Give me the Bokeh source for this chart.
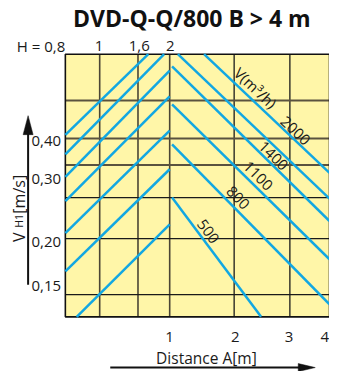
import math
from bokeh.plotting import figure
from bokeh.models import Range1d
from bokeh.core.properties import value
from bokeh.embed import file_html
from bokeh.resources import INLINE

# ---------------- data (chart units: the yellow field spans 0..100 on both axes) -------------
title_text = "DVD-Q-Q/800 B > 4 m"

# grid lines of the diagram
grid_x_dark = [13.0, 27.5, 39.5]
grid_x_black = [63.9, 85.0]
grid_y_dark = [82.4, 67.9, 57.8]
grid_y_black = [45.4, 29.8, 8.5]

# rising lines (left family)
rise_x0 = [0.0, 0.0, 0.0, 0.0, 0.0, 0.0, 4.3]
rise_y0 = [69.3, 61.9, 53.3, 44.1, 31.9, 17.3, 0.0]
rise_x1 = [31.4, 37.4, 39.5, 39.5, 39.5, 39.5, 39.5]
rise_y1 = [100.0, 100.0, 93.7, 83.9, 70.9, 56.2, 35.2]

# falling lines (air volume V family)
fall_x0 = [42.6, 52.5, 40.4, 40.4, 40.4, 40.4]
fall_y0 = [100.0, 100.0, 95.4, 80.9, 65.7, 45.4]
fall_x1 = [100.0, 100.0, 100.0, 100.0, 100.0, 74.1]
fall_y1 = [45.0, 54.8, 36.5, 21.9, 4.8, 0.0]

# labels of the falling lines: text, index of the line it follows, position
v_labels = ["V(m³/h)", "2000", "1400", "1100", "800", "500"]
v_label_line = [1, 1, 2, 3, 4, 5]
v_label_x = [72.0, 87.0, 78.7, 72.9, 65.3, 54.0]
v_label_y = [87.2, 70.8, 61.3, 53.6, 45.3, 32.5]

# top scale H
h_labels = ["H = 0,8", "1", "1,6", "2"]
h_label_x = [-9.2, 12.8, 28.0, 39.7]
h_label_y = 103.3

# left scale V_H1
v_tick_labels = ["0,40", "0,30", "0,20", "0,15"]
v_tick_y = [66.9, 52.3, 28.6, 11.8]
v_tick_x = -7.2

# bottom scale A
a_labels = ["1", "2", "3", "4"]
a_label_x = [39.4, 64.3, 84.7, 98.2]
a_label_y = -7.7

x_label = "Distance A[m]"

# ---------------- figure ----------------
X0, X1 = -24.55, 100.0
Y0, Y1 = -20.8, 120.44
W, H = 329, 371
sx = W / (X1 - X0)
sy = H / (Y1 - Y0)

p = figure(width=W, height=H, x_range=Range1d(X0, X1), y_range=Range1d(Y0, Y1),
           output_backend="svg", toolbar_location=None, min_border=0,
           x_axis_type=None, y_axis_type=None)
p.outline_line_color = None
p.xgrid.visible = False
p.ygrid.visible = False
p.background_fill_color = "white"
p.border_fill_color = "white"

FONT = value("Open Sans")
YELLOW = "#fff6a8"
BLUE = "#12a7e2"
INK = "#1a1a1a"

# yellow field
p.quad(left=[0], right=[100], bottom=[0], top=[100], fill_color=YELLOW, line_color=None)

# grid
p.segment(x0=grid_x_dark, y0=[0] * len(grid_x_dark), x1=grid_x_dark, y1=[100] * len(grid_x_dark),
          line_color="#4b4535", line_width=1.6)
p.segment(x0=grid_x_black, y0=[0] * len(grid_x_black), x1=grid_x_black, y1=[100] * len(grid_x_black),
          line_color=INK, line_width=1.3)
p.segment(x0=[0] * len(grid_y_dark), y0=grid_y_dark, x1=[100] * len(grid_y_dark), y1=grid_y_dark,
          line_color="#5a523f", line_width=2.0)
p.segment(x0=[0] * len(grid_y_black), y0=grid_y_black, x1=[100] * len(grid_y_black), y1=grid_y_black,
          line_color=INK, line_width=1.3)

# border
p.quad(left=[0], right=[100], bottom=[0], top=[100], fill_color=None, line_color="#111111", line_width=1.6)

# blue lines
p.segment(x0=rise_x0, y0=rise_y0, x1=rise_x1, y1=rise_y1, line_color=BLUE, line_width=2.5)
p.segment(x0=fall_x0, y0=fall_y0, x1=fall_x1, y1=fall_y1, line_color=BLUE, line_width=2.5)

# labels along falling lines (angle derived from the line they follow)
angles = []
for i in v_label_line:
    dx = (fall_x1[i] - fall_x0[i]) * sx
    dy = (fall_y1[i] - fall_y0[i]) * sy
    angles.append(math.atan2(dy, dx))
p.text(x=v_label_x, y=v_label_y, text=v_labels, angle=angles, text_font=FONT,
       text_font_size="15px", text_color=INK, text_align="center", text_baseline="middle")

# title
p.text(x=[47.9], y=[113.6], text=[title_text], text_font=FONT, text_font_style="bold",
       text_font_size="23px", text_color="#111111", text_align="center", text_baseline="middle")

# top H labels
p.text(x=h_label_x, y=[h_label_y] * len(h_labels), text=h_labels, text_font=FONT,
       text_font_size="15px", text_color=INK, text_align="center", text_baseline="middle")

# left tick labels
p.text(x=[v_tick_x] * len(v_tick_labels), y=v_tick_y, text=v_tick_labels, text_font=FONT,
       text_font_size="15px", text_color=INK, text_align="center", text_baseline="middle")

# bottom labels
p.text(x=a_label_x, y=[a_label_y] * len(a_labels), text=a_labels, text_font=FONT,
       text_font_size="15px", text_color=INK, text_align="center", text_baseline="middle")
p.text(x=[53.4], y=[-15.7], text=[x_label], text_font=FONT,
       text_font_size="15.5px", text_color=INK, text_align="center", text_baseline="middle")

# y axis title  V_H1 [m/s]  (rotated)
p.text(x=[-17.5], y=[28.5], text=["V"], angle=[math.pi / 2], text_font=FONT,
       text_font_size="16px", text_color=INK, text_align="left", text_baseline="alphabetic")
p.text(x=[-17.5], y=[33.9], text=["H1"], angle=[math.pi / 2], text_font=FONT,
       text_font_size="10.5px", text_color=INK, text_align="left", text_baseline="alphabetic")
p.text(x=[-17.5], y=[39.3], text=["[m/s]"], angle=[math.pi / 2], text_font=FONT,
       text_font_size="16px", text_color=INK, text_align="left", text_baseline="alphabetic")


def arrow(xs, ys, xe, ye, head_len, head_w):
    """shaft from start to end and a triangular head at the end (head sizes in pixels)"""
    dxp, dyp = (xe - xs) * sx, (ye - ys) * sy
    n = math.hypot(dxp, dyp)
    ux, uy = dxp / n, dyp / n
    bx, by = -ux * head_len, -uy * head_len
    px_, py_ = -uy * head_w / 2, ux * head_w / 2
    p.segment(x0=[xs], y0=[ys], x1=[xe + bx / sx * 0.5], y1=[ye + by / sy * 0.5],
              line_color="#111111", line_width=2)
    p.patch(x=[xe, xe + (bx + px_) / sx, xe + (bx - px_) / sx],
            y=[ye, ye + (by + py_) / sy, ye + (by - py_) / sy],
            fill_color="#111111", line_color="#111111", line_width=0.5)


# left vertical arrow and bottom horizontal arrow
arrow(-14.1, 12.2, -14.1, 76.6, 19, 10)
arrow(17.0, -19.3, 94.6, -19.3, 17, 8)

open("out.html", "w").write(file_html(p, INLINE))
